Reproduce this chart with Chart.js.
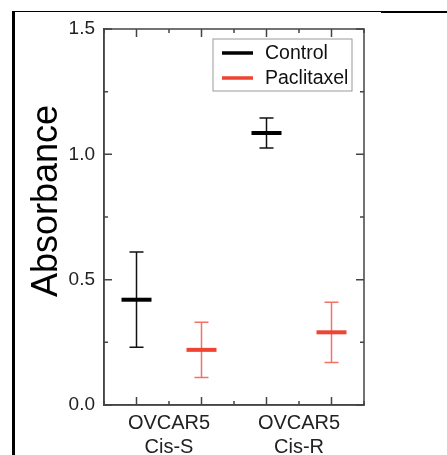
<!DOCTYPE html>
<html>
<head>
<meta charset="utf-8">
<script src="https://cdn.jsdelivr.net/npm/chart.js@4.4.1/dist/chart.umd.min.js"></script>
<style>
    html, body { margin: 0; padding: 0; background: #fff; }
    #wrap { position: relative; width: 447px; height: 455px; overflow: hidden; }
    #chart { position: absolute; left: 0; top: 0; }
    .frame-left { position: absolute; left: 12px; top: 11px; width: 3px; height: 444px; background: #000; }
    .frame-top { position: absolute; left: 12px; top: 11px; width: 435px; height: 1px; background: #000; }
    .frame-top-right { position: absolute; left: 381px; top: 11px; width: 66px; height: 2px; background: #000; }
</style>
</head>
<body>
<div id="wrap">
    <canvas id="chart" width="447" height="455"></canvas>
    <div class="frame-left"></div>
    <div class="frame-top"></div>
    <div class="frame-top-right"></div>
</div>
<script>
    // values (mean +/- error)
    const seriesNames = ['Control', 'Paclitaxel'];
    const controlX = [1, 5];
    const controlMean = [0.42, 1.085];
    const controlErr = [0.19, 0.06];
    const paclitaxelX = [3, 7];
    const paclitaxelMean = [0.22, 0.29];
    const paclitaxelErr = [0.11, 0.12];
    const groupTickX = [2, 6];
    const groupLabels = [['OVCAR5', 'Cis-S'], ['OVCAR5', 'Cis-R']];
    const yMajorStep = 0.5;

    const FONT = '"Liberation Sans", Arial, sans-serif';
    Chart.defaults.font.family = FONT;

    function points(xs, ys) {
        return xs.map((x, i) => ({x: x, y: ys[i]}));
    }

    // vertical error bars with caps, placed through the chart scales
    const errorBars = {
        id: 'errorBars',
        beforeDatasetsDraw(chart) {
            const ctx = chart.ctx;
            const xs = chart.scales.x, ys = chart.scales.y;
            chart.data.datasets.forEach(ds => {
                ctx.save();
                ctx.strokeStyle = ds.errColor;
                ctx.lineWidth = 1.5;
                ds.data.forEach((p, i) => {
                    const px = xs.getPixelForValue(p.x);
                    const top = ys.getPixelForValue(p.y + ds.err[i]);
                    const bot = ys.getPixelForValue(p.y - ds.err[i]);
                    ctx.beginPath();
                    ctx.moveTo(px, top); ctx.lineTo(px, bot);
                    ctx.moveTo(px - 7, top); ctx.lineTo(px + 7, top);
                    ctx.moveTo(px - 7, bot); ctx.lineTo(px + 7, bot);
                    ctx.stroke();
                });
                ctx.restore();
            });
        }
    };

    // box frame, inward ticks on all four sides, y title and legend box
    const frame = {
        id: 'frame',
        afterDraw(chart) {
            const ctx = chart.ctx;
            const a = chart.chartArea;
            const xs = chart.scales.x, ys = chart.scales.y;
            ctx.save();
            ctx.strokeStyle = '#444';
            ctx.lineWidth = 1.5;
            ctx.strokeRect(a.left, a.top, a.right - a.left, a.bottom - a.top);

            ctx.beginPath();
            ys.ticks.forEach(t => {
                const py = ys.getPixelForValue(t.value);
                const major = Math.abs(t.value / yMajorStep - Math.round(t.value / yMajorStep)) < 1e-6;
                const len = major ? 8 : 4;
                ctx.moveTo(a.left, py); ctx.lineTo(a.left + len, py);
                ctx.moveTo(a.right, py); ctx.lineTo(a.right - len, py);
            });
            xs.ticks.forEach(t => {
                const px = xs.getPixelForValue(t.value);
                const len = (t.value % 2 === 1) ? 8 : 4;
                ctx.moveTo(px, a.bottom); ctx.lineTo(px, a.bottom - len);
                ctx.moveTo(px, a.top); ctx.lineTo(px, a.top + len);
            });
            ctx.stroke();

            // y axis title
            ctx.fillStyle = '#000';
            ctx.font = '36px ' + FONT;
            ctx.textAlign = 'center';
            ctx.textBaseline = 'middle';
            ctx.translate(a.left - 57, (a.top + a.bottom) / 2 - 16);
            ctx.rotate(-Math.PI / 2);
            ctx.fillText('Absorbance', 0, 0);
            ctx.restore();

            // legend
            ctx.save();
            const bx = a.left + 109, by = a.top + 10, bw = 139, bh = 52;
            ctx.strokeStyle = '#999';
            ctx.lineWidth = 1;
            ctx.strokeRect(bx, by, bw, bh);
            ctx.font = '19.5px ' + FONT;
            ctx.textBaseline = 'middle';
            ctx.textAlign = 'left';
            chart.data.datasets.forEach((ds, i) => {
                const ly = by + 14 + i * 25;
                ctx.strokeStyle = ds.borderColor;
                ctx.lineWidth = 3.5;
                ctx.beginPath();
                ctx.moveTo(bx + 9, ly); ctx.lineTo(bx + 40, ly);
                ctx.stroke();
                ctx.fillStyle = '#111';
                ctx.fillText(ds.label, bx + 52, ly + 1);
            });
            ctx.restore();
        }
    };

    new Chart(document.getElementById('chart'), {
        type: 'scatter',
        data: {
            datasets: [
                {
                    label: seriesNames[0],
                    data: points(controlX, controlMean),
                    err: controlErr,
                    borderColor: '#000',
                    backgroundColor: '#000',
                    errColor: '#111',
                    pointStyle: 'line',
                    pointRadius: 15,
                    borderWidth: 4
                },
                {
                    label: seriesNames[1],
                    data: points(paclitaxelX, paclitaxelMean),
                    err: paclitaxelErr,
                    borderColor: '#ee4431',
                    backgroundColor: '#ee4431',
                    errColor: 'rgba(238, 68, 49, 0.75)',
                    pointStyle: 'line',
                    pointRadius: 15,
                    borderWidth: 4
                }
            ]
        },
        options: {
            responsive: false,
            animation: false,
            events: [],
            devicePixelRatio: 1,
            layout: {padding: {top: 29, right: 83, left: 0, bottom: 0}},
            plugins: {
                legend: {display: false},
                tooltip: {enabled: false}
            },
            scales: {
                x: {
                    type: 'linear',
                    min: 0,
                    max: 8,
                    afterFit(s) { s.height = 50; },
                    grid: {display: false, drawTicks: false},
                    border: {display: true, color: '#444', width: 1.5},
                    ticks: {
                        stepSize: 1,
                        autoSkip: false,
                        maxRotation: 0,
                        padding: 6,
                        color: '#222',
                        font: {size: 20, lineHeight: 1.2},
                        callback: v => {
                            const i = groupTickX.indexOf(v);
                            return i >= 0 ? groupLabels[i] : '';
                        }
                    }
                },
                y: {
                    min: 0,
                    max: 1.5,
                    afterFit(s) { s.width = 104; },
                    grid: {display: false, drawTicks: false},
                    border: {display: true, color: '#444', width: 1.5},
                    ticks: {
                        stepSize: 0.25,
                        autoSkip: false,
                        padding: 9,
                        color: '#222',
                        font: {size: 19},
                        callback: v => Math.abs(v / yMajorStep - Math.round(v / yMajorStep)) < 1e-6 ? v.toFixed(1) : ''
                    }
                }
            }
        },
        plugins: [errorBars, frame]
    });
</script>
</body>
</html>
